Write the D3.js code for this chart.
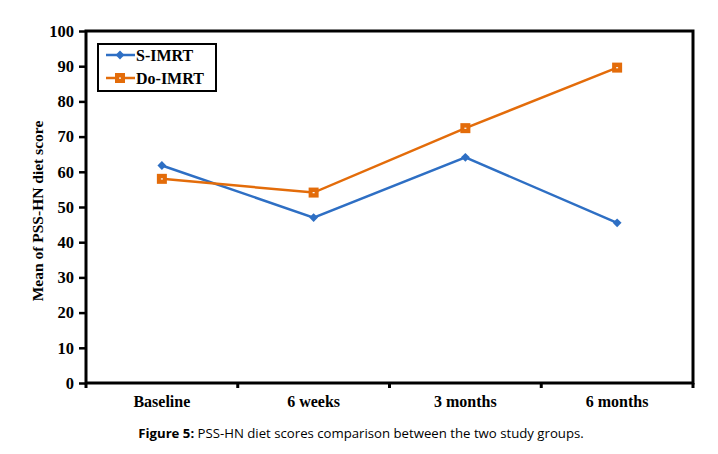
<!DOCTYPE html>
<html>
<head>
<meta charset="utf-8">
<script src="https://cdn.jsdelivr.net/npm/d3@7"></script>
<style>
  body { margin: 0; background: #fff; }
  svg { display: block; }
</style>
</head>
<body>
<div id="chart"></div>
<script>
// data
const categories = ['Baseline', '6 weeks', '3 months', '6 months'];
const sImrt = [61.8, 47.0, 64.1, 45.5];
const doImrt = [58.0, 54.1, 72.4, 89.6];
const yTicks = [0, 10, 20, 30, 40, 50, 60, 70, 80, 90, 100];

const W = 718, H = 454;
const margin = { top: 31, right: 25, bottom: 71, left: 86 };
const w = W - margin.left - margin.right;
const h = H - margin.top - margin.bottom;

const blue = '#2E6FC4', orange = '#E36C0A';
const serif = 'Liberation Serif, Times New Roman, serif';

const svg = d3.select('#chart').append('svg').attr('width', W).attr('height', H);
const g = svg.append('g').attr('transform', `translate(${margin.left},${margin.top})`);

const x = d3.scaleBand().domain(categories).range([0, w]).padding(0);
const y = d3.scaleLinear().domain([0, 100]).range([h, 0]);

// frame
g.append('rect').attr('x', 0).attr('y', 0).attr('width', w).attr('height', h)
    .attr('fill', 'none').attr('stroke', '#000').attr('stroke-width', 3);

// y axis
const yAx = g.append('g').call(d3.axisLeft(y).tickValues(yTicks).tickSize(7).tickPadding(5))
    .attr('font-family', serif).attr('font-size', 16.5).attr('font-weight', 'bold');
yAx.select('.domain').remove();
yAx.selectAll('line').attr('stroke', '#000').attr('stroke-width', 2.5);
yAx.selectAll('text').attr('fill', '#000');

// x axis: ticks at band boundaries
const bounds = categories.map(c => x(c)).concat([w]);
g.selectAll('.xtick').data(bounds).enter().append('line')
    .attr('x1', d => d).attr('x2', d => d).attr('y1', h).attr('y2', h + 5)
    .attr('stroke', '#000').attr('stroke-width', 3);
g.selectAll('.xlab').data(categories).enter().append('text')
    .attr('x', d => x(d) + x.bandwidth() / 2).attr('y', h + 24)
    .attr('text-anchor', 'middle').text(d => d)
    .attr('font-family', serif).attr('font-weight', 'bold').attr('font-size', 16);

// y title
svg.append('text').attr('transform', `translate(43,${margin.top + h / 2 + 4}) rotate(-90)`)
    .attr('text-anchor', 'middle').text('Mean of PSS-HN diet score')
    .attr('font-family', serif).attr('font-weight', 'bold').attr('font-size', 15.5);

// lines
const line = d3.line().x((d, i) => x(categories[i]) + x.bandwidth() / 2).y(d => y(d));
g.append('path').datum(sImrt).attr('d', line).attr('fill', 'none').attr('stroke', blue).attr('stroke-width', 2.5);
g.append('path').datum(doImrt).attr('d', line).attr('fill', 'none').attr('stroke', orange).attr('stroke-width', 2.5);

const diamond = d3.symbol().type(d3.symbolDiamond2).size(50);
function square(sel, cx, cy) {
    sel.append('rect').attr('x', cx - 5).attr('y', cy - 5).attr('width', 10).attr('height', 10).attr('fill', orange);
    sel.append('rect').attr('x', cx - 1).attr('y', cy - 0.5).attr('width', 2).attr('height', 1.2).attr('fill', '#fff');
}

sImrt.forEach((v, i) => {
    g.append('path').attr('d', diamond)
        .attr('transform', `translate(${x(categories[i]) + x.bandwidth() / 2},${y(v)})`).attr('fill', blue);
});
doImrt.forEach((v, i) => square(g, x(categories[i]) + x.bandwidth() / 2, y(v)));

// legend
const lg = svg.append('g');
lg.append('rect').attr('x', 98).attr('y', 44).attr('width', 118).attr('height', 47)
    .attr('fill', '#fff').attr('stroke', '#000').attr('stroke-width', 2);
lg.append('line').attr('x1', 106).attr('x2', 135).attr('y1', 55).attr('y2', 55).attr('stroke', blue).attr('stroke-width', 2.5);
lg.append('path').attr('d', diamond).attr('transform', 'translate(120,55)').attr('fill', blue);
lg.append('line').attr('x1', 106).attr('x2', 135).attr('y1', 78).attr('y2', 78).attr('stroke', orange).attr('stroke-width', 2.5);
square(lg, 120, 78);
lg.append('text').attr('x', 136).attr('y', 61).text('S-IMRT')
    .attr('font-family', serif).attr('font-weight', 'bold').attr('font-size', 16);
lg.append('text').attr('x', 136).attr('y', 84).text('Do-IMRT')
    .attr('font-family', serif).attr('font-weight', 'bold').attr('font-size', 16);

// caption
const cap = svg.append('text').attr('x', 361).attr('y', 438).attr('text-anchor', 'middle')
    .attr('font-family', 'Open Sans, sans-serif').attr('font-size', 13.2);
cap.append('tspan').attr('font-weight', 'bold').text('Figure 5:');
cap.append('tspan').text(' PSS-HN diet scores comparison between the two study groups.');
</script>
</body>
</html>
